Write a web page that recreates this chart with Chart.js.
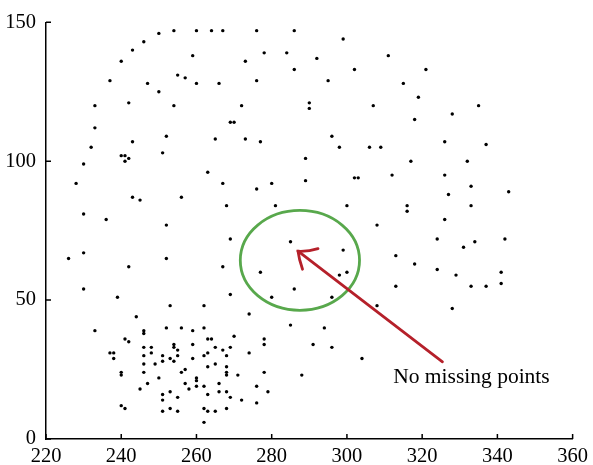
<!DOCTYPE html>
<html>
<head>
<meta charset="utf-8">
<script src="https://cdn.jsdelivr.net/npm/chart.js@4"></script>
<style>
  html, body { margin: 0; padding: 0; background: #fff; }
  #c { display: block; }
</style>
</head>
<body>
<canvas id="c" width="593" height="465"></canvas>
<script>
// x / y of each point
const xValues = [
  250, 254, 260, 264, 267, 246, 243, 259, 240, 255, 257, 237, 247, 260, 266, 250, 242, 233, 254, 233,
  252, 265, 243, 232, 251, 240, 241, 242, 241, 276, 286, 299, 278, 284, 273, 292, 311, 286, 302, 276,
  295, 315, 272, 290, 290, 307, 269, 270, 273, 277, 296, 298, 306, 309, 289, 321, 319, 335, 328, 318,
  326, 337, 230, 263, 228, 267, 243, 245, 256, 268, 230, 236, 252, 230, 226, 252, 242, 267, 230, 239,
  302, 303, 312, 289, 280, 276, 281, 300, 316, 316, 308, 269, 285, 299, 313, 277, 298, 300, 313, 269,
  286, 280, 296, 308, 317, 332, 326, 333, 343, 327, 333, 326, 324, 334, 342, 331, 318, 324, 329, 341,
  341, 333, 337, 244, 233, 246, 246, 241, 242, 237, 238, 238, 246, 246, 246, 246, 240, 240, 247, 245,
  240, 241, 253, 262, 252, 256, 259, 262, 248, 248, 254, 254, 255, 259, 263, 264, 263, 262, 251, 255,
  253, 251, 254, 259, 249, 263, 257, 256, 250, 260, 260, 257, 260, 262, 258, 253, 251, 263, 255, 251,
  253, 251, 255, 262, 263, 262, 274, 270, 265, 269, 267, 268, 274, 278, 278, 265, 268, 268, 268, 271,
  278, 266, 276, 266, 268, 279, 269, 272, 276, 265, 268, 328, 285, 294, 291, 296, 304, 288
];
const yValues = [
  146, 147, 147, 147, 147, 143, 140, 138, 136, 131, 130, 129, 128, 128, 128, 125, 121, 120, 120, 112,
  109, 108, 107, 105, 103, 102, 102, 101, 100, 147, 147, 144, 139, 139, 136, 137, 138, 133, 133, 129,
  129, 128, 120, 121, 119, 120, 114, 114, 108, 107, 109, 105, 105, 105, 101, 133, 123, 120, 117, 115,
  107, 106, 99, 96, 92, 92, 87, 86, 87, 84, 81, 79, 77, 67, 65, 65, 62, 62, 54, 51,
  94, 94, 95, 93, 92, 90, 84, 84, 84, 82, 77, 72, 71, 68, 66, 60, 59, 60, 55, 52,
  54, 51, 51, 48, 100, 100, 95, 91, 89, 88, 84, 79, 72, 71, 72, 69, 63, 61, 59, 60,
  56, 55, 55, 44, 39, 39, 38, 36, 35, 31, 31, 29, 33, 30, 27, 24, 24, 23, 20, 18,
  12, 11, 48, 48, 40, 40, 39, 40, 33, 31, 34, 33, 32, 34, 36, 36, 31, 30, 30, 30,
  29, 28, 28, 29, 27, 26, 25, 24, 22, 22, 21, 20, 19, 19, 18, 17, 16, 16, 15, 14,
  11, 10, 10, 11, 10, 6, 45, 37, 33, 33, 32, 30, 31, 36, 34, 27, 26, 24, 23, 23,
  24, 20, 19, 17, 17, 17, 15, 14, 13, 10, 11, 47, 41, 40, 34, 33, 29, 23
];
const xTicks = [220, 240, 260, 280, 300, 320, 340, 360];
const yTicks = [0, 50, 100, 150];
const noteText = 'No missing points';

const points = xValues.map((x, i) => ({ x: x, y: yValues[i] }));
const serif = '"Liberation Serif", "DejaVu Serif", serif';

// ticks pointing into the plot, like the original
const innerTicks = {
  id: 'innerTicks',
  afterDraw(chart) {
    const ctx = chart.ctx, xs = chart.scales.x, ys = chart.scales.y;
    const a = chart.chartArea;
    ctx.save();
    ctx.strokeStyle = '#000';
    ctx.lineWidth = 1.5;
    ctx.beginPath();
    xTicks.forEach(v => {
      const px = xs.getPixelForValue(v);
      ctx.moveTo(px, a.bottom);
      ctx.lineTo(px, a.bottom - 5);
    });
    yTicks.forEach(v => {
      const py = ys.getPixelForValue(v);
      ctx.moveTo(a.left, py);
      ctx.lineTo(a.left + 5, py);
    });
    ctx.stroke();
    ctx.restore();
  }
};

// green ellipse, red arrow and the note
const annotation = {
  id: 'annotation',
  afterDatasetsDraw(chart) {
    const ctx = chart.ctx, xs = chart.scales.x, ys = chart.scales.y;
    const px = v => xs.getPixelForValue(v), py = v => ys.getPixelForValue(v);
    ctx.save();

    const cx = px(287.5), cy = py(64.3);
    const rx = px(287.5 + 15.85) - cx, ry = cy - py(64.3 + 17.97);
    ctx.strokeStyle = '#58a84c';
    ctx.lineWidth = 2.8;
    ctx.beginPath();
    ctx.ellipse(cx, cy, rx, ry, 0, 0, Math.PI * 2);
    ctx.stroke();

    const tx = px(287.0), ty = py(67.6);
    const ex = px(325.4), ey = py(27.8);
    ctx.strokeStyle = '#b5202a';
    ctx.lineWidth = 2.8;
    ctx.lineCap = 'round';
    ctx.beginPath();
    ctx.moveTo(ex, ey);
    ctx.lineTo(tx, ty);
    ctx.stroke();
    ctx.beginPath();
    ctx.moveTo(tx + 4.5, ty + 18);
    ctx.quadraticCurveTo(tx + 1, ty + 8, tx, ty);
    ctx.quadraticCurveTo(tx + 10, ty + 0.5, tx + 20, ty - 2.6);
    ctx.stroke();

    ctx.fillStyle = '#000';
    ctx.font = '21.5px ' + serif;
    ctx.textAlign = 'left';
    ctx.textBaseline = 'alphabetic';
    ctx.fillText(noteText, px(312.3), py(20.1));
    ctx.restore();
  }
};

const config = {
  type: 'scatter',
  data: {
    datasets: [{
      data: points,
      pointRadius: 1.7,
      pointHoverRadius: 1.7,
      pointBorderWidth: 0,
      backgroundColor: '#000',
      borderColor: '#000'
    }]
  },
  options: {
    responsive: false,
    animation: false,
    devicePixelRatio: 1,
    layout: { padding: { top: 21, right: 17, left: 0, bottom: 0 } },
    plugins: { legend: { display: false }, tooltip: { enabled: false } },
    scales: {
      x: {
        type: 'linear',
        min: 220,
        max: 360,
        afterFit: s => { s.height = 26; },
        afterBuildTicks: s => { s.ticks = xTicks.map(v => ({ value: v })); },
        grid: { display: false, drawTicks: false },
        border: { display: true, color: '#000', width: 1.5 },
        ticks: { color: '#000', padding: 5, maxRotation: 0, font: { family: serif, size: 20.5 } }
      },
      y: {
        type: 'linear',
        min: 0,
        max: 150,
        afterFit: s => { s.width = 46; },
        afterBuildTicks: s => { s.ticks = yTicks.map(v => ({ value: v })); },
        grid: { display: false, drawTicks: false },
        border: { display: true, color: '#000', width: 1.5 },
        ticks: { color: '#000', padding: 10, font: { family: serif, size: 20.5 } }
      }
    }
  },
  plugins: [innerTicks, annotation]
};

new Chart(document.getElementById('c'), config);
</script>
</body>
</html>
